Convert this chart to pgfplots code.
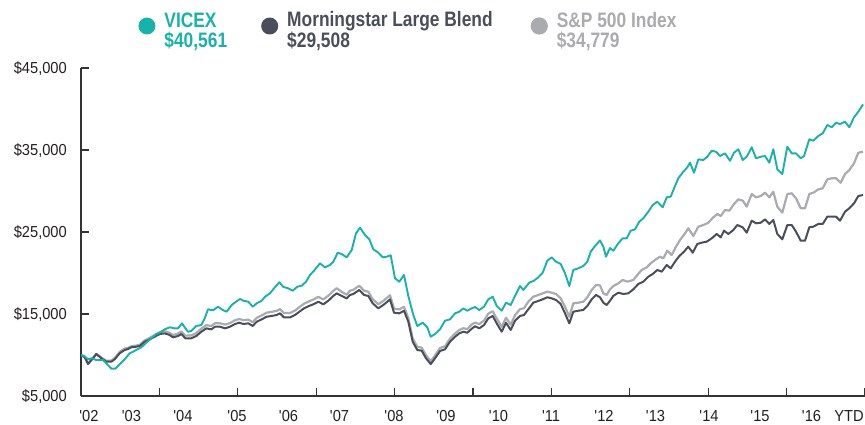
\documentclass[border=0pt]{standalone}
\usepackage{pgfplots}
\pgfplotsset{compat=1.18}
\usepackage{fontspec}
\setmainfont{Liberation Sans}[FakeStretch=0.92, Ligatures=TeXOff]
\newfontfamily\legfont{Liberation Sans}[FakeStretch=0.83, Ligatures=TeXOff]
\definecolor{vteal}{RGB}{23,178,170}
\definecolor{mdark}{RGB}{74,78,91}
\definecolor{sgray}{RGB}{169,171,174}
\definecolor{axcol}{RGB}{51,51,51}
\definecolor{lblcol}{RGB}{35,31,32}
\begin{document}
\begin{tikzpicture}[x=1bp,y=1bp]
\useasboundingbox (0,0) rectangle (865,424);
\begin{axis}[
  at={(81bp,28bp)}, anchor=south west,
  scale only axis, width=784bp, height=328bp,
  xmin=81, xmax=865, ymin=5000, ymax=45000,
  scaled y ticks=false, scaled x ticks=false,
  axis x line*=bottom, axis y line*=left,
  axis line style={axcol, line width=1.3bp},
  tick align=inside, major tick length=8bp,
  every tick/.style={axcol, line width=1.3bp},
  xtick={159.4,237.8,316.2,394.6,473,551.4,629.8,708.2,786.6,865},
  xticklabels={},
  extra x ticks={89,131.5,183,237,288.5,339.5,394,446,498.5,551,604,655.5,709,760,811.5,849},
  extra x tick labels={{'02},{'03},{'04},{'05},{'06},{'07},{'08},{'09},{'10},{'11},{'12},{'13},{'14},{'15},{'16},{YTD}},
  extra x tick style={major tick length=0pt},
  ytick={5000,15000,25000,35000,45000},
  yticklabels={{\$5,000},{\$15,000},{\$25,000},{\$35,000},{\$45,000}},
  ticklabel style={font=\fontsize{16}{16}\selectfont, text=lblcol, inner sep=0pt},
  xticklabel style={anchor=base, yshift=-25bp},
  yticklabel style={anchor=base east, xshift=-14bp, yshift=-5.7bp},
  reverse legend, legend columns=3,
  legend style={draw=none, fill=none, inner sep=0pt, outer sep=0pt,
    at={(0.0733,1.1716)}, anchor=north west,
    font=\legfont\bfseries\fontsize{21}{20}\selectfont,
    nodes={inner sep=0pt},
    cells={anchor=west, align=left},
    /tikz/column 2/.style={column sep=34bp},
    /tikz/column 4/.style={column sep=38bp}},
  line join=round,
]
\addplot[sgray, line width=2.2bp,
  legend image code/.code={\fill[sgray] (7.5bp,4.5bp) circle (7.5bp); \path[draw=none, fill=none] (0,-12bp) -- (25bp,12bp);}]
coordinates {
(81,10000) (84.7,9760) (88,8980) (93,9650) (96.3,10150) (101.3,9680) (106.3,9300) (111.3,9320)
(114.7,9620) (119.7,10380) (124.7,10780) (128,10880) (131.3,11060) (136.3,11150) (139.7,11250)
(144.7,11780) (149.7,12090) (154.7,12440) (159.7,12790) (164.7,12900) (169.7,12700) (173,12430)
(178,12620) (181.3,12870) (185.3,12360) (191.3,12380) (196.3,12680) (201.3,13220) (206.3,13640)
(211.3,13540) (215,13880) (220,13880) (225,13700) (230,13900) (235,14230) (239.3,14400)
(243.3,14240) (248.3,14320) (252.7,14000) (256.7,14530) (261.7,14830) (266.7,15160) (271.7,15260)
(276.7,15390) (280,15600) (284,15110) (290,15120) (295,15420) (299.3,15830) (304,16250) (309,16550)
(314,16800) (318.3,17090) (323.3,16780) (328.3,17230) (333.3,17820) (336.7,18150) (341.7,17700)
(346.7,17350) (350,17850) (353.3,17950) (359.3,18450) (364,17850) (368.3,17720) (372.7,16800)
(378.3,16190) (383.3,16600) (387.3,17000) (390,17290) (394,15650) (399.3,15560) (404,15880)
(408.3,14500) (412.7,12020) (417.3,10990) (421.7,10900) (426,9960) (430.7,9250) (435,9950)
(440,10850) (445,11060) (450,12000) (455,12620) (459.3,13050) (463.3,13260) (467.3,13160)
(471.7,13720) (475,13950) (479.3,13780) (484,14200) (488.3,15050) (492.7,15340) (496.7,14450)
(501.7,13450) (506,14550) (510.7,13700) (515,14850) (520,15600) (524,15700) (528.3,16500)
(533.3,17110) (538.3,17320) (542.7,17520) (547.3,17720) (551.7,17600) (556,17440) (560.7,16910)
(565,15890) (569.3,14670) (573.3,16300) (578.3,16380) (583.3,16500) (587.3,17040) (591.7,17930)
(596,18540) (600,18480) (603.3,17520) (606.7,17320) (610,18010) (613.3,18410) (618.3,18740)
(622.7,19150) (627.3,18940) (633.3,19150) (637.3,19760) (641.7,20370) (646.7,20690) (650.7,21180)
(655,21590) (660,21990) (663.3,21790) (667.3,22720) (671.7,22200) (676,23210) (680,24020)
(685,24840) (688.3,25450) (693.3,24510) (698.3,25650) (703.3,25850) (708.3,26130) (713.3,26790)
(717.3,27190) (720.7,26950) (725,27680) (729.3,27600) (734,28410) (738.3,28980) (742.7,28820)
(746.7,28090) (751.7,29630) (756,29230) (760.7,29390) (765,29790) (769.3,29230) (773.3,29910)
(777.3,28090) (782.3,27360) (787.3,29630) (791.7,29720) (796,29110) (800.7,27890) (805,27890)
(809.3,29630) (813.3,29790) (818.3,30200) (822.7,30330) (827.3,31420) (831.7,31550) (836,31550)
(840.7,31010) (845,32070) (849.3,32560) (854,33380) (858.3,34670) (863,34779)
};
\addlegendentry[text=sgray]{S\&P 500 Index\\\$34,779}
\addplot[mdark, line width=2bp,
  legend image code/.code={\fill[mdark] (7.5bp,4.5bp) circle (7.5bp); \path[draw=none, fill=none] (0,-12bp) -- (25bp,12bp);}]
coordinates {
(81,10000) (84.7,9720) (88,8900) (93,9600) (96.3,10120) (101.3,9600) (106.3,9180) (111.3,9180)
(114.7,9480) (119.7,10210) (124.7,10610) (128,10730) (131.3,10940) (136.3,11010) (139.7,11100)
(144.7,11620) (149.7,11910) (154.7,12230) (159.7,12560) (164.7,12640) (169.7,12440) (173,12150)
(178,12320) (181.3,12560) (185.3,12040) (191.3,12040) (196.3,12320) (201.3,12840) (206.3,13250)
(211.3,13130) (215,13450) (220,13450) (225,13250) (230,13450) (235,13780) (239.3,13940)
(243.3,13780) (248.3,13860) (252.7,13540) (256.7,14060) (261.7,14350) (266.7,14670) (271.7,14760)
(276.7,14880) (280,15080) (284,14590) (290,14590) (295,14880) (299.3,15280) (304,15690) (309,15980)
(314,16220) (318.3,16500) (323.3,16180) (328.3,16620) (333.3,17200) (336.7,17520) (341.7,17200)
(346.7,16900) (350,17320) (353.3,17440) (359.3,17930) (364,17320) (368.3,17200) (372.7,16300)
(378.3,15690) (383.3,16100) (387.3,16500) (390,16790) (394,15160) (399.3,15080) (404,15400)
(408.3,14060) (412.7,11620) (417.3,10610) (421.7,10530) (426,9600) (430.7,8900) (435,9600)
(440,10490) (445,10690) (450,11620) (455,12230) (459.3,12640) (463.3,12840) (467.3,12720)
(471.7,13200) (475,13500) (479.3,13250) (484,13660) (488.3,14470) (492.7,14760) (496.7,13860)
(501.7,12840) (506,13940) (510.7,13050) (515,14180) (520,14760) (524,14880) (528.3,15570)
(533.3,16380) (538.3,16590) (542.7,16790) (547.3,17040) (551.7,16910) (556,16710) (560.7,16220)
(565,15080) (569.3,13860) (573.3,15280) (578.3,15400) (583.3,15490) (587.3,15980) (591.7,16790)
(596,17320) (600,17040) (603.3,16380) (606.7,16100) (610,16620) (613.3,17200) (618.3,17600)
(623.3,17440) (628.3,17520) (633.3,18010) (638.3,18660) (643.3,18940) (648.3,19550) (652.7,19880)
(657.3,20370) (661.7,20160) (666.7,20980) (670.7,20570) (675,21380) (679.3,22070) (684,22600)
(688.3,23210) (692.7,22480) (697.3,23540) (701.7,23700) (706.7,23820) (711.7,24230) (716.7,24760)
(720.7,24350) (724,25160) (728.3,24760) (733.3,25240) (737.3,25850) (742.7,25570) (746.7,24920)
(751.7,26380) (756,26060) (760.7,26130) (765,26540) (769.3,25980) (773.3,26460) (777.3,24760)
(782.3,24110) (787.3,25850) (791.7,25850) (796,25040) (800.7,23940) (805,23940) (809.3,25570)
(813.3,25650) (818.3,25980) (822.7,25980) (827.3,26870) (831.7,26870) (836,26870) (840,26380)
(845,27480) (849.3,27890) (854,28500) (858.3,29390) (863,29508)
};
\addlegendentry[text=mdark]{Morningstar Large Blend\\\$29,508}
\addplot[vteal, line width=1.9bp,
  legend image code/.code={\fill[vteal] (7.5bp,4.5bp) circle (7.5bp); \path[draw=none, fill=none] (0,-12bp) -- (25bp,12bp);}]
coordinates {
(81,10000) (84,9900) (88,9480) (92,9600) (96.3,9390) (103,9390) (108,8780) (111.3,8330) (115.3,8330)
(119.7,8870) (124.7,9480) (129.7,10210) (133,10400) (138,10730) (141.3,10940) (146.3,11500)
(151.3,12040) (156.3,12560) (159.7,12720) (164.7,13130) (169.7,13380) (174.7,13250) (178,13250)
(182,13860) (184.7,13380) (188,12840) (191.3,12930) (196.3,13540) (201.3,13660) (204.7,14470)
(208,15570) (213,15450) (218,15890) (222.7,15490) (226.7,15280) (231.7,16100) (236,16500)
(240,16830) (243.3,16620) (248.3,16500) (252.7,15890) (256.7,16300) (261.7,16620) (265,17110)
(270,17520) (274,18130) (279.3,18870) (283.3,18300) (288.3,18130) (292.7,17840) (297.3,18330)
(301.7,18450) (306,18940) (310,19760) (314,20280) (320,21180) (325,20690) (330,20980) (333.3,21380)
(337.7,22480) (341.7,22300) (346.7,21910) (351.7,22800) (356,24840) (360,25520) (365,24630)
(369.3,24110) (373.3,22890) (378.3,22480) (382.7,21910) (386.7,21990) (390.7,22160) (395,19350)
(399.3,18940) (404,19760) (408.3,17200) (413.3,14880) (417.3,13540) (422.7,13940) (427.3,13380)
(430.7,12230) (435,12560) (440,13130) (445,14180) (450,14350) (455,15080) (459.3,15280)
(463.3,15690) (467.3,15400) (471.7,15690) (475,15850) (479.3,15490) (484,15890) (488.3,16790)
(492.7,17110) (496.7,15980) (501.7,15400) (506,16380) (510.7,16100) (515,17200) (520,18410)
(523.3,17930) (529.3,18820) (534,19070) (538.3,19470) (542.7,20040) (547.3,21500) (551.7,21910)
(556,21380) (560.7,21100) (565,19960) (569.3,18410) (573.3,20370) (578.3,20570) (583.3,20850)
(587.3,21380) (590.7,22600) (595,23290) (600,23980) (603.3,23210) (606,21990) (610,23050)
(613.3,22720) (618.3,23620) (622.7,24230) (626.7,24230) (630.7,25160) (635,25330) (639.3,26260)
(643.3,26670) (648.3,27480) (652.7,28290) (657.3,28700) (662.7,28010) (666.7,29230) (670.7,29310)
(674,30330) (678.3,31550) (683.3,32350) (687.3,32890) (690,33450) (694,32230) (698.3,33860)
(703.3,33780) (707.3,34180) (711.7,34910) (716,34790) (720,34270) (725,34590) (730,33680)
(734,34670) (738.3,35090) (742.7,33780) (746.7,34180) (751.7,35330) (756,33990) (760.7,34180)
(765,34270) (769.3,33450) (773.3,35090) (777.3,32650) (782.3,32070) (787.3,35400) (791.7,34590)
(796,34590) (800.7,33990) (804,34270) (809.3,36300) (813.3,36130) (818.3,36710) (822.7,37040)
(827.3,38050) (831.7,37770) (836,38330) (840,38170) (845,38450) (849.3,37770) (854,38990)
(858.3,39670) (863,40561)
};
\addlegendentry[text=vteal]{VICEX\\\$40,561}
\end{axis}
\end{tikzpicture}
\end{document}
